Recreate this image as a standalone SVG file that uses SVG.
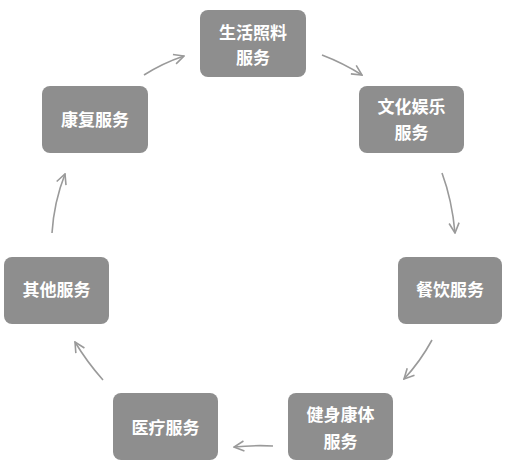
<svg xmlns="http://www.w3.org/2000/svg" width="522" height="470" viewBox="0 0 522 470">
<style>
.box{fill:#8e8e8e;}
.t{font-family:"Noto Sans CJK SC","Liberation Sans",sans-serif;font-size:17px;font-weight:bold;fill:#ffffff;text-anchor:middle;}
.c{fill:none;stroke:#9a9a9a;stroke-width:1.6;marker-end:url(#ah);}
</style>
<defs>
<marker id="ah" viewBox="0 0 12 12" refX="11" refY="6" markerWidth="12" markerHeight="12" markerUnits="userSpaceOnUse" orient="auto">
<polyline points="1,1 11,6 1,11" fill="none" stroke="#9a9a9a" stroke-width="1.6"/>
</marker>
</defs>
<rect width="522" height="470" fill="#ffffff"/>
<g id="connectors">
<path class="c" d="M144,75 Q163,63 184,56"/>
<path class="c" d="M322,55 Q343,63 362,75"/>
<path class="c" d="M442,173 Q452,200 455,233"/>
<path class="c" d="M432,340 Q420,362 404,379"/>
<path class="c" d="M273,446 Q254,445 234,447"/>
<path class="c" d="M103,380 Q87,362 75,342"/>
<path class="c" d="M52,233 Q54,202 65,174"/>
</g>
<g id="n1"><rect class="box" x="200" y="10" width="106" height="67" rx="8"/><text class="t" x="253" y="39">生活照料</text><text class="t" x="253" y="64">服务</text></g>
<g id="n2"><rect class="box" x="359" y="86" width="105" height="67" rx="8"/><text class="t" x="411.5" y="113">文化娱乐</text><text class="t" x="411.5" y="139">服务</text></g>
<g id="n3"><rect class="box" x="398" y="257" width="104" height="67" rx="8"/><text class="t" x="450" y="296">餐饮服务</text></g>
<g id="n4"><rect class="box" x="288" y="393" width="105" height="67" rx="8"/><text class="t" x="340.5" y="421">健身康体</text><text class="t" x="340.5" y="448">服务</text></g>
<g id="n5"><rect class="box" x="113" y="393" width="105" height="67" rx="8"/><text class="t" x="165.5" y="434">医疗服务</text></g>
<g id="n6"><rect class="box" x="4" y="257" width="105" height="67" rx="8"/><text class="t" x="56.5" y="296">其他服务</text></g>
<g id="n7"><rect class="box" x="42" y="86" width="106" height="67" rx="8"/><text class="t" x="95" y="126">康复服务</text></g>
</svg>
